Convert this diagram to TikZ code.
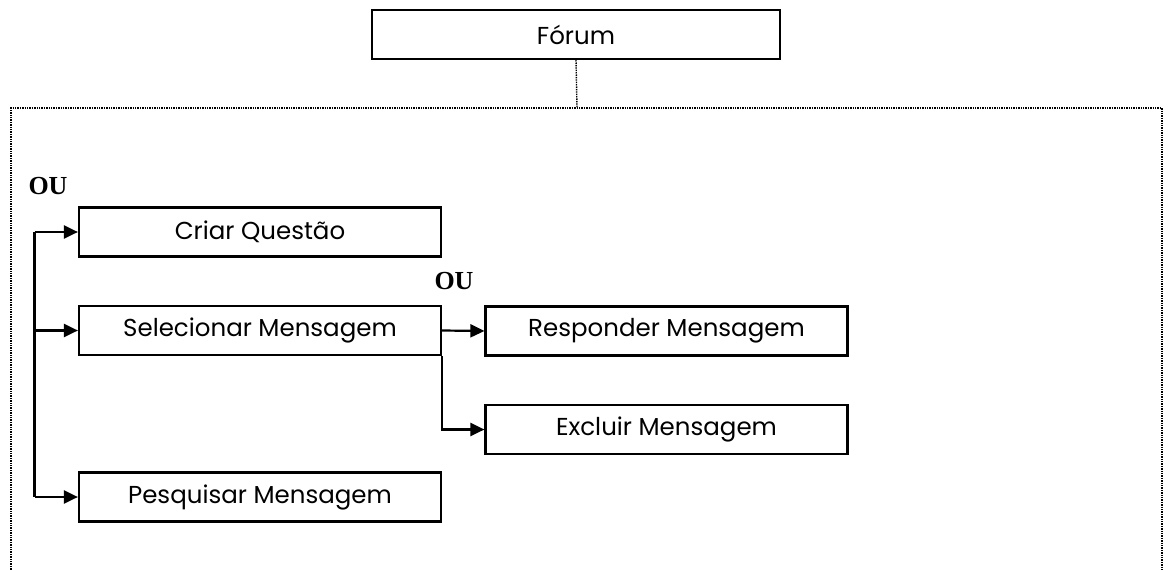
\documentclass[tikz,border=0pt]{standalone}
\usepackage{fontspec}
\setmainfont{Poppins}
\newfontfamily\ouf{Liberation Serif}
\usetikzlibrary{arrows.meta}
\begin{document}
\begin{tikzpicture}[x=1pt,y=-1pt,
  box/.style={draw,line width=2.2pt,minimum height=49pt,inner sep=0pt,font=\fontsize{24.5}{27}\selectfont},
  arr/.style={line width=2.2pt,-{Triangle[length=14pt,width=13pt]}},
  bus/.style={line width=2.2pt},
  dotline/.style={line width=1.4pt,dash pattern=on 1.4pt off 1pt},
  oulbl/.style={font=\ouf\bfseries\fontsize{26}{28}\selectfont,inner sep=0pt}]
\useasboundingbox (0,0) rectangle (1168,570);
\node[box,minimum width=408pt] (forum) at (576,34.5) {Fórum};
\node[box,minimum width=362pt] (criar) at (260,232) {Criar Questão};
\node[box,minimum width=362pt] (sel) at (260,330.5) {Selecionar Mensagem};
\node[box,minimum width=362pt] (pesq) at (260,497) {Pesquisar Mensagem};
\node[box,minimum width=362pt] (resp) at (666.5,331) {Responder Mensagem};
\node[box,minimum width=362pt] (excl) at (666.5,429.5) {Excluir Mensagem};
\node[oulbl] (ou1) at (48,186) {OU};
\node[oulbl] (ou2) at (454,281) {OU};
% dotted frame
\coordinate (ftop) at (577,108);
\coordinate (fl) at (11,108);
\coordinate (fr) at (1162,108);
\coordinate (flb) at (11,572);
\coordinate (frb) at (1162,572);
\draw[dotline] (forum.south) -- (ftop);
\draw[dotline] (flb) -- (fl) -- (fr) -- (frb);
% bus 1
\coordinate (b1) at (34.5,232);
\coordinate (b2) at (34.5,330.5);
\coordinate (b3) at (34.5,497);
\draw[bus] (b1) -- (b3);
\draw[arr] (b1) -- (criar.west);
\draw[arr] (b2) -- (sel.west);
\draw[arr] (b3) -- (pesq.west);
% bus 2
\draw[arr] (sel.east) -- (resp.west);
\draw[arr] (sel.south east) |- (excl.west);
\end{tikzpicture}
\end{document}
